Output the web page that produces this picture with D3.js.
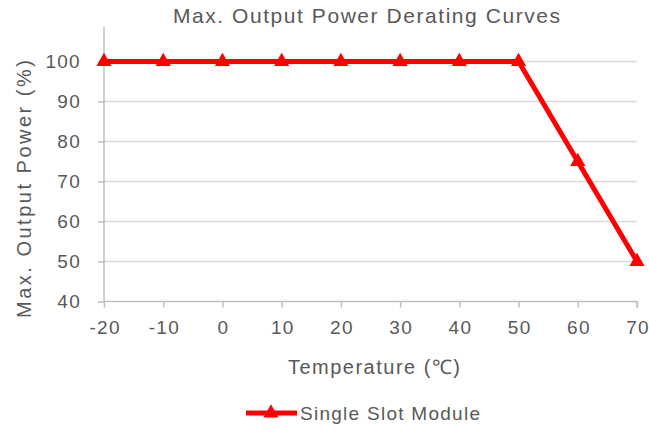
<!DOCTYPE html>
<meta charset="utf-8">
<style>
body { margin: 0; background: #fff; }
svg { font-family: "Liberation Sans", Arial, sans-serif; }
.grid line { stroke: #d9d9d9; stroke-width: 1.3px; }
.axis text { fill: #595959; font-size: 19px; letter-spacing: 1.3px; }
.axis path, .axis line { stroke: #bfbfbf; stroke-width: 1.5px; }
.title { fill: #595959; font-size: 21px; }
.lbl { fill: #595959; font-size: 20px; }
.legend text { fill: #595959; font-size: 19px; }
</style>
<svg width="649" height="434"></svg>
<script src="https://d3js.org/d3.v7.min.js"></script>
<script>

var temps = [-20, -10, 0, 10, 20, 30, 40, 50, 60, 70];
var power = [100, 100, 100, 100, 100, 100, 100, 100, 75, 50];
var xTicks = [-20, -10, 0, 10, 20, 30, 40, 50, 60, 70];
var yTicks = [40, 50, 60, 70, 80, 90, 100];
var seriesName = "Single Slot Module";

var svg = d3.select("svg");

var x = d3.scaleLinear()
    .domain([-20, 70])
    .range([104, 637]);

var y = d3.scaleLinear()
    .domain([40, 100])
    .range([301.5, 61.5]);

var red = "#ff0000";

// gridlines
svg.append("g")
    .attr("class", "grid")
  .selectAll("line")
  .data(yTicks.filter(function(d) { return d > 40; }))
  .enter().append("line")
    .attr("x1", x(-20))
    .attr("x2", x(70))
    .attr("y1", function(d) { return y(d); })
    .attr("y2", function(d) { return y(d); });

// y axis
var yAxis = svg.append("g")
    .attr("class", "axis")
    .attr("transform", "translate(" + x(-20) + ",0)")
    .call(d3.axisLeft(y).tickValues(yTicks).tickSize(6).tickPadding(17));
yAxis.select(".domain").attr("d", "M0,27V" + y(40));

// x axis
var xAxis = svg.append("g")
    .attr("class", "axis")
    .attr("transform", "translate(0," + y(40) + ")")
    .call(d3.axisBottom(x).tickValues(xTicks).tickSize(6).tickPadding(10)
      .tickFormat(function(d) { return d; }));
xAxis.select(".domain").attr("d", "M" + x(-20) + ",0H" + x(70) + "V6");
xAxis.selectAll("text").attr("dy", "0.85em").attr("dx", "0.6");

// line
var data = temps.map(function(t, i) { return {t: t, p: power[i]}; });

svg.append("path")
    .datum(data)
    .attr("fill", "none")
    .attr("stroke", red)
    .attr("stroke-width", 5)
    .attr("stroke-linejoin", "round")
    .attr("d", d3.line()
      .x(function(d) { return x(d.t); })
      .y(function(d) { return y(d.p); }));

var tri = d3.symbol().type(d3.symbolTriangle).size(100);

svg.append("g")
  .selectAll("path")
  .data(data)
  .enter().append("path")
    .attr("d", tri)
    .attr("fill", red)
    .attr("transform", function(d) { return "translate(" + x(d.t) + "," + y(d.p) + ")"; });

// texts
svg.append("text")
    .attr("class", "title")
    .attr("x", 173)
    .attr("y", 23)
    .attr("textLength", 387)
    .attr("lengthAdjust", "spacing")
    .text("Max. Output Power Derating Curves");

svg.append("text")
    .attr("class", "lbl")
    .attr("x", 288)
    .attr("y", 374)
    .attr("textLength", 172)
    .attr("lengthAdjust", "spacing")
    .text("Temperature (\u2103)");

svg.append("text")
    .attr("class", "lbl")
    .attr("transform", "translate(31,318) rotate(-90)")
    .attr("textLength", 258)
    .attr("lengthAdjust", "spacing")
    .text("Max. Output Power (%)");

// legend
var lg = svg.append("g").attr("class", "legend").attr("transform", "translate(246,413)");
lg.append("line")
    .attr("x1", 0).attr("x2", 51)
    .attr("stroke", red).attr("stroke-width", 5);
lg.append("path")
    .attr("d", tri)
    .attr("fill", red)
    .attr("transform", "translate(25,0)");
lg.append("text")
    .attr("x", 54)
    .attr("y", 7)
    .attr("textLength", 180)
    .attr("lengthAdjust", "spacing")
    .text(seriesName);

</script>
